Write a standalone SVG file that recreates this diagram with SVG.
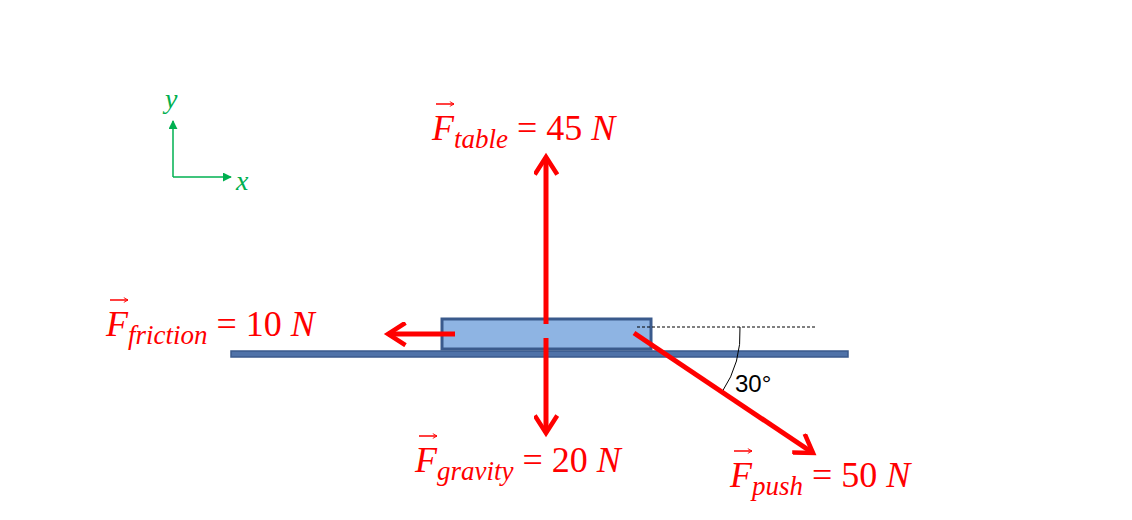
<svg xmlns="http://www.w3.org/2000/svg" width="1132" height="520" viewBox="0 0 1132 520">
<style>
.f{stroke:#ff0000;stroke-width:5;fill:none;stroke-linecap:butt}
.lbl{font-family:"Liberation Serif",serif;font-size:36px;fill:#ff0000}
.i{font-style:italic}
.sub{font-size:27px;font-style:italic}
.va{stroke:#ff0000;stroke-width:1.5;fill:none}
.ax{stroke:#00b050;stroke-width:1.5;fill:none}
.axl{font-family:"Liberation Serif",serif;font-style:italic;font-size:28px;fill:#00b050}
</style>
<defs>
<marker id="h" viewBox="0 0 10 10" refX="8" refY="5" markerWidth="5" markerHeight="5" orient="auto" markerUnits="strokeWidth">
<polyline points="1,0.5 8,5 1,9.5" fill="none" stroke="#ff0000" stroke-width="1.8"/>
</marker>
<marker id="g" viewBox="0 0 10 10" refX="9" refY="5" markerWidth="6" markerHeight="6" orient="auto" markerUnits="strokeWidth">
<path d="M0,0 L10,5 L0,10 Z" fill="#00b050"/>
</marker>
<marker id="s" viewBox="0 0 10 10" refX="9" refY="5" markerWidth="4" markerHeight="4" orient="auto">
<path d="M2,1 L9,5 L2,9" fill="none" stroke="#ff0000" stroke-width="1.5"/>
</marker>
</defs>
<g id="axes">
<path class="ax" d="M173,177 V121" marker-end="url(#g)"/>
<path class="ax" d="M173,177 H231" marker-end="url(#g)"/>
<text class="axl" x="165" y="108">y</text>
<text class="axl" x="236" y="190">x</text>
</g>
<g id="table"><rect x="231" y="351" width="617" height="6" fill="#4f72a8" stroke="#3a5a8c" stroke-width="1.5"/></g>
<g id="block"><rect x="442" y="319" width="209" height="30" fill="#8eb4e3" stroke="#3a5a8c" stroke-width="3"/></g>
<g id="angle">
<path d="M637,327 H815" stroke="#000" stroke-width="1" stroke-dasharray="3,2"/>
<path d="M740,327 A106,106 0 0 1 722,392" stroke="#000" stroke-width="1" fill="none"/>
<text x="735" y="392" font-family="Liberation Sans,sans-serif" font-size="24" fill="#000">30°</text>
</g>
<g id="connectors">
<path class="f" d="M546,324 V157" marker-end="url(#h)"/>
<path class="f" d="M546,338 V433" marker-end="url(#h)"/>
<path class="f" d="M455,334 H388" marker-end="url(#h)"/>
<path class="f" d="M634,333 L813,453" marker-end="url(#h)"/>
</g>
<g id="label-table">
<path class="va" d="M436,104 H454" marker-end="url(#s)"/>
<text class="lbl" x="432" y="140"><tspan class="i">F</tspan><tspan class="sub" dy="8">table</tspan><tspan dy="-8"> = 45 </tspan><tspan class="i">N</tspan></text>
</g>
<g id="label-friction">
<path class="va" d="M110,300 H128" marker-end="url(#s)"/>
<text class="lbl" x="106" y="336"><tspan class="i">F</tspan><tspan class="sub" dy="8">friction</tspan><tspan dy="-8"> = 10 </tspan><tspan class="i">N</tspan></text>
</g>
<g id="label-gravity">
<path class="va" d="M419,436 H437" marker-end="url(#s)"/>
<text class="lbl" x="415" y="472"><tspan class="i">F</tspan><tspan class="sub" dy="8">gravity</tspan><tspan dy="-8"> = 20 </tspan><tspan class="i">N</tspan></text>
</g>
<g id="label-push">
<path class="va" d="M734,451 H752" marker-end="url(#s)"/>
<text class="lbl" x="730" y="487"><tspan class="i">F</tspan><tspan class="sub" dy="8">push</tspan><tspan dy="-8"> = 50 </tspan><tspan class="i">N</tspan></text>
</g>
</svg>
